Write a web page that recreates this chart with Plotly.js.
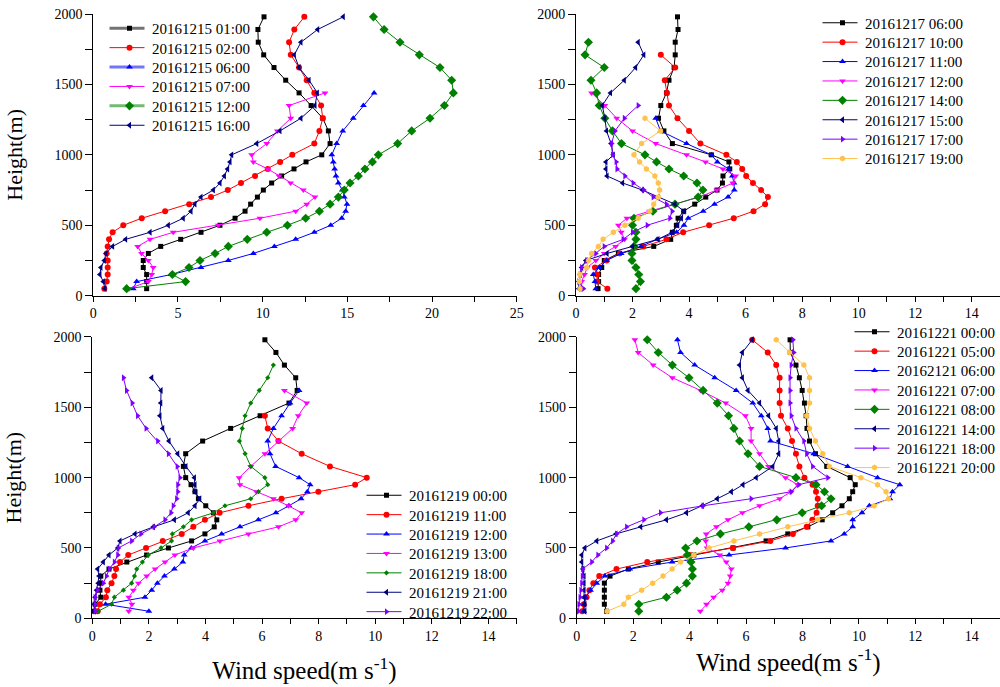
<!DOCTYPE html>
<html>
<head>
<meta charset="utf-8">
<script src="https://cdn.plot.ly/plotly-3.0.1.min.js"></script>
<style>
  html, body { margin: 0; padding: 0; background: #ffffff; }
  #chart { width: 1000px; height: 687px; }
</style>
</head>
<body>
<div id="chart"></div>
<script>
// Measurement heights (m): 50 m steps up to 1000 m, then 90 m steps up to 1980 m
const HEIGHTS = [50, 100, 150, 200, 250, 300, 350, 400, 450, 500,
                 550, 600, 650, 700, 750, 800, 850, 900, 950, 1000,
                 1080, 1170, 1260, 1350, 1440, 1530, 1620, 1710, 1800, 1890, 1980];

// ---- 2016-12-15 wind speed profiles (m/s), listed from the lowest level upward
const d15_0100 = [3.15,3.15,3.15,2.95,2.95,3.25,3.98,5.16,6.36,7.48,8.37,8.96,9.29,9.69,10.04,10.53,11.12,11.85,12.56,13.49,13.98,13.88,13.55,12.86,12.15,11.36,10.67,10.06,9.74,9.72,10.08];
const d15_0200 = [0.65,0.79,0.85,0.85,0.85,0.79,0.85,0.93,1.14,1.77,2.86,4.24,5.66,6.95,7.94,8.72,9.55,10.30,11.03,11.75,13.05,13.35,13.55,13.45,13.05,12.6,12.15,11.66,11.56,11.87,12.46];
const d15_0600 = [2.36,2.56,4.6,6.36,7.97,9.45,10.69,11.95,13.05,14.02,14.67,14.9,14.98,14.82,14.7,14.47,14.33,14.25,14.17,14.08,14.37,14.73,15.35,15.95,16.58];
const d15_0700 = [2.11,3.25,3.45,3.54,3.25,2.85,2.62,3.35,4.72,7.38,9.84,11.95,12.6,13.09,12.4,11.65,10.96,10.3,9.45,9.35,10.24,10.87,11.66,11.56,13.68];
const d15_1200 = [1.97,5.45,4.67,5.65,6.3,7.19,7.97,9.09,10.24,11.46,12.54,13.35,13.98,14.47,14.82,15.16,15.65,16.04,16.48,16.83,17.97,18.8,19.88,20.73,21.26,21.16,20.47,19.25,18.11,17.17,16.54];
const d15_1600 = [0.69,0.59,0.39,0.45,0.65,0.75,1.14,1.91,3.35,4.43,5.31,5.77,6.0,6.36,7.09,7.48,7.74,7.93,8.07,8.17,9.65,11.02,12.26,13.09,13.23,12.74,12.15,11.87,12.26,13.25,14.76];

// ---- 2016-12-17
const d17_0600 = [0.78,0.8,0.8,0.91,1.0,1.5,2.75,3.35,3.41,3.55,3.61,3.81,4.2,4.59,4.99,5.18,5.2,5.44,5.41,4.79,3.41,3.11,2.92,3.0,3.2,3.29,3.47,3.51,3.51,3.61,3.59];
const d17_1000 = [1.11,0.75,0.75,0.67,1.08,1.55,2.38,3.2,3.79,4.71,5.58,6.28,6.69,6.79,6.55,6.26,6.02,5.88,5.69,5.32,4.4,4.0,3.59,3.29,3.22,3.14,3.51,3.0];
const d17_1100 = [0.7,0.67,0.61,0.82,1.08,1.6,2.3,2.87,3.56,3.82,3.97,4.5,4.9,5.38,5.6,5.59,5.53,5.4,5.0,4.79,3.91,2.99,2.82];
const d17_1200 = [0.2,0.2,0.3,0.4,0.7,1.0,1.4,1.72,1.6,1.5,1.8,2.6,3.5,4.35,4.98,5.55,5.65,5.2,4.58,3.91,2.82,2.0,1.44,1.02,0.55];
const d17_1400 = [2.12,2.28,2.22,2.12,1.98,1.98,2.05,2.12,2.12,2.0,2.05,2.72,3.5,4.32,4.49,4.28,3.81,3.29,2.85,2.44,1.61,1.29,1.02,0.82,0.73,0.53,1.0,0.32,0.44];
const d17_1500 = [0.1,0.1,0.15,0.2,0.35,1.1,2.0,2.9,3.4,3.6,3.73,3.82,3.5,2.9,2.35,1.65,1.1,1.06,1.06,1.32,1.24,1.08,1.02,0.93,1.22,1.71,2.11,2.4,2.2];
const d17_1700 = [0.26,0.1,0.15,0.2,0.38,0.7,1.0,1.67,2.0,2.52,3.32,3.4,3.2,2.73,2.4,2.02,1.73,1.45,1.42,1.29,1.26,1.38,1.71,2.2];
const d17_1900 = [0.14,0.12,0.14,0.38,0.45,0.55,0.79,0.96,1.32,1.73,2.2,2.61,2.75,2.91,2.96,2.91,2.79,2.49,2.25,2.05,2.32,2.99,2.44];

// ---- 2016-12-19
const d19_0000 = [0.07,0.1,0.3,0.27,0.3,0.3,0.59,1.22,1.92,2.69,3.51,3.98,4.31,4.4,4.28,4.01,3.75,3.63,3.49,3.3,3.22,3.3,3.9,4.89,5.93,6.95,7.24,7.19,6.79,6.49,6.1];
const d19_1100 = [0.19,0.27,0.48,0.53,0.68,0.78,0.84,0.98,1.27,1.9,2.49,3.16,3.57,3.98,4.5,5.52,6.69,7.99,9.29,9.7,8.4,7.4,6.58,6.2,6.1];
const d19_1200 = [2.0,0.47,1.86,2.1,2.3,2.55,2.9,3.2,3.25,3.5,3.98,4.57,5.22,5.87,6.49,6.95,7.38,7.6,7.7,7.31,6.48,6.28,6.2,6.4,6.69,6.99,7.31];
const d19_1300 = [1.29,1.4,1.29,1.45,1.63,1.92,2.22,2.57,2.92,3.57,4.51,5.52,6.58,7.19,7.4,6.93,6.4,5.8,5.22,5.19,5.6,6.1,6.58,7.08,7.28,7.58,6.79];
const d19_1800 = [0.21,0.68,0.78,1.1,1.39,1.49,1.57,1.77,1.98,2.43,2.8,2.83,3.22,3.51,4.28,4.69,5.6,5.87,6.2,6.1,5.6,5.4,5.2,5.3,5.4,5.6,5.9,6.2,6.4];
const d19_2100 = [0.07,0.07,0.1,0.15,0.21,0.24,0.19,0.39,0.59,0.9,0.98,1.51,2.16,2.9,3.39,3.63,3.8,3.63,3.63,3.61,3.31,3.02,2.71,2.49,2.39,2.42,2.43,2.1];
const d19_2200 = [0.1,0.1,0.1,0.19,0.39,0.5,0.6,0.78,0.9,0.92,1.39,1.72,2.19,2.57,2.78,2.86,2.98,3.02,3.02,3.1,3.0,2.69,2.31,1.9,1.6,1.41,1.21,1.1];

// ---- 2016-12-21
const d21_0000 = [1.06,0.98,0.98,0.98,0.98,1.18,1.83,2.89,4.15,5.54,6.71,7.48,8.19,8.7,9.07,9.4,9.66,9.78,9.87,9.69,8.86,8.46,8.25,8.16,8.13,8.07,7.99,7.89,7.77,7.57,7.56];
const d21_0500 = [0.2,0.25,0.35,0.45,0.59,0.8,1.41,2.5,4.0,5.54,6.86,7.66,8.15,8.35,8.5,8.54,8.54,8.48,8.36,8.07,7.89,7.77,7.63,7.48,7.24,7.19,7.19,7.19,7.07,6.77,6.22];
const d21_0600 = [0.25,0.25,0.3,0.49,0.71,1.0,1.88,3.38,5.4,7.4,9.01,9.48,9.78,9.78,10.11,10.37,11.1,11.19,11.45,10.66,9.6,8.4,6.87,6.77,6.54,6.24,5.65,4.89,4.18,3.68,3.57];
const d21_0700 = [4.38,4.6,4.85,5.16,5.36,5.44,5.48,5.3,5.07,4.62,4.57,4.59,4.95,5.36,5.87,6.48,7.19,7.6,7.83,7.4,6.8,6.48,6.18,6.18,5.98,5.28,4.39,3.39,2.71,2.18,2.06];
const d21_0800 = [2.2,2.2,3.18,3.56,3.89,4.1,4.1,4.05,3.92,3.86,4.26,5.09,6.1,7.09,7.99,8.68,9.01,8.78,8.48,7.77,6.48,6.07,5.77,5.57,5.38,4.98,4.48,3.98,3.39,2.89,2.5];
const d21_1400 = [0.29,0.29,0.26,0.26,0.26,0.26,0.22,0.18,0.18,0.29,0.71,1.39,2.27,3.18,3.89,4.45,4.98,5.48,5.89,6.36,6.95,7.16,7.16,7.07,6.8,6.48,6.07,5.87,5.77,5.87,6.22];
const d21_1800 = [0.06,0.08,0.12,0.15,0.18,0.2,0.21,0.53,0.75,1.06,1.27,1.41,1.77,2.38,2.97,4.48,6.18,7.6,7.87,8.9,8.36,8.15,8.05,7.77,7.6,7.56,7.56,7.56,7.6,7.69,7.66];
const d21_2000 = [1.08,1.67,1.83,2.3,2.69,3.06,3.38,3.68,4.15,4.69,5.57,6.48,7.48,8.54,9.66,10.54,11.05,10.96,10.66,10.07,8.95,8.72,8.46,8.25,8.15,8.25,8.25,8.25,8.05,7.54,7.07];

// Legend labels per panel
const labels15 = ['20161215 01:00','20161215 02:00','20161215 06:00','20161215 07:00','20161215 12:00','20161215 16:00'];
const labels17 = ['20161217 06:00','20161217 10:00','20161217 11:00','20161217 12:00','20161217 14:00','20161217 15:00','20161217 17:00','20161217 19:00'];
const labels19 = ['20161219 00:00','20161219 11:00','20161219 12:00','20161219 13:00','20161219 18:00','20161219 21:00','20161219 22:00'];
const labels21 = ['20161221 00:00','20161221 05:00','20162121 06:00','20161221 07:00','20161221 08:00','20161221 14:00','20161221 18:00','20161221 20:00'];

// Legend keys drawn with a wide, softened line
const SOFT_KEYS = ['20161215 01:00', '20161215 06:00', '20161215 12:00',
                   '20161221 05:00', '20161221 14:00', '20161221 20:00'];

// Line/marker styles: colour, symbol, size
const STYLE = {
  black:   ['#000000', 'square', 5],
  red:     ['#ff0000', 'circle', 6],
  blue:    ['#0000ff', 'triangle-up', 6],
  magenta: ['#ff00ff', 'triangle-down', 6],
  green:   ['#008000', 'diamond', 7],
  greenDot:['#008000', 'diamond', 4],
  navy:    ['#000080', 'triangle-left', 6],
  violet:  ['#8000ff', 'triangle-right', 6],
  orange:  ['#ffc34d', 'hexagon', 6]
};

function profile(values, name, style, axisIdx, legendId) {
  const [color, symbol, size] = STYLE[style];
  const suffix = axisIdx === 1 ? '' : String(axisIdx);
  return {
    type: 'scatter', mode: 'lines+markers',
    x: values, y: HEIGHTS.slice(0, values.length),
    name: name,
    xaxis: 'x' + suffix, yaxis: 'y' + suffix,
    legend: legendId,
    line: { color: color, width: 1 },
    marker: { color: color, symbol: symbol, size: size, line: { width: 0 } },
    cliponaxis: false
  };
}

const traces = [
  profile(d15_0100, labels15[0], 'black', 1, 'legend'),
  profile(d15_0200, labels15[1], 'red', 1, 'legend'),
  profile(d15_0600, labels15[2], 'blue', 1, 'legend'),
  profile(d15_0700, labels15[3], 'magenta', 1, 'legend'),
  profile(d15_1200, labels15[4], 'green', 1, 'legend'),
  profile(d15_1600, labels15[5], 'navy', 1, 'legend'),

  profile(d17_0600, labels17[0], 'black', 2, 'legend2'),
  profile(d17_1000, labels17[1], 'red', 2, 'legend2'),
  profile(d17_1100, labels17[2], 'blue', 2, 'legend2'),
  profile(d17_1200, labels17[3], 'magenta', 2, 'legend2'),
  profile(d17_1400, labels17[4], 'green', 2, 'legend2'),
  profile(d17_1500, labels17[5], 'navy', 2, 'legend2'),
  profile(d17_1700, labels17[6], 'violet', 2, 'legend2'),
  profile(d17_1900, labels17[7], 'orange', 2, 'legend2'),

  profile(d19_0000, labels19[0], 'black', 3, 'legend3'),
  profile(d19_1100, labels19[1], 'red', 3, 'legend3'),
  profile(d19_1200, labels19[2], 'blue', 3, 'legend3'),
  profile(d19_1300, labels19[3], 'magenta', 3, 'legend3'),
  profile(d19_1800, labels19[4], 'greenDot', 3, 'legend3'),
  profile(d19_2100, labels19[5], 'navy', 3, 'legend3'),
  profile(d19_2200, labels19[6], 'violet', 3, 'legend3'),

  profile(d21_0000, labels21[0], 'black', 4, 'legend4'),
  profile(d21_0500, labels21[1], 'red', 4, 'legend4'),
  profile(d21_0600, labels21[2], 'blue', 4, 'legend4'),
  profile(d21_0700, labels21[3], 'magenta', 4, 'legend4'),
  profile(d21_0800, labels21[4], 'green', 4, 'legend4'),
  profile(d21_1400, labels21[5], 'navy', 4, 'legend4'),
  profile(d21_1800, labels21[6], 'violet', 4, 'legend4'),
  profile(d21_2000, labels21[7], 'orange', 4, 'legend4')
];

const FONT = 'Liberation Serif, Times New Roman, serif';
const LEGEND_ROW = 19.4;   // vertical pitch of legend rows (px)

function axis(extra) {
  return Object.assign({
    showline: true, linecolor: '#000', linewidth: 1,
    ticks: 'outside', ticklen: 5, tickwidth: 1, tickcolor: '#000',
    showgrid: false, zeroline: false,
    tickfont: { family: FONT, size: 14, color: '#000' }
  }, extra);
}

function minorTicks(step, len) {
  return { ticks: 'outside', ticklen: len, tickwidth: 1, tickcolor: '#000', dtick: step, showgrid: false };
}

function legendBox(x, y) {
  return {
    x: x, y: y, xanchor: 'left', yanchor: 'top',
    bgcolor: 'rgba(0,0,0,0)', borderwidth: 0,
    font: { family: FONT, size: 15, color: '#000' },
    itemwidth: 35,
    tracegroupgap: 0
  };
}

const yTitle = { text: 'Height(m)', font: { family: FONT, size: 22, color: '#000' }, standoff: 25 };
const xTitleFont = { family: FONT, size: 25, color: '#000' };
const xTitleText = 'Wind speed(m s<sup>-1</sup>)';

const layout = {
  width: 1000, height: 687,
  margin: { l: 0, r: 0, t: 0, b: 0, autoexpand: false },
  paper_bgcolor: '#fff', plot_bgcolor: '#fff',
  font: { family: FONT, color: '#000' },
  showlegend: true,

  xaxis:  axis({ domain: [0.0933, 0.5167], range: [0, 25], dtick: 5, tick0: 0, minor: minorTicks(2.5, 5), anchor: 'y' }),
  yaxis:  axis({ domain: [0.5696, 0.9796], range: [0, 2000], dtick: 500, tick0: 0, ticklen: 7, minor: minorTicks(250, 7), anchor: 'x', title: yTitle }),

  xaxis2: axis({ domain: [0.576, 1.0], range: [0, 15], dtick: 2, tick0: 0, minor: minorTicks(1, 5), anchor: 'y2' }),
  yaxis2: axis({ domain: [0.5696, 0.9796], range: [0, 2000], dtick: 500, tick0: 0, ticklen: 7, minor: minorTicks(250, 7), anchor: 'x2' }),

  xaxis3: axis({ domain: [0.0923, 0.5167], range: [0, 15], dtick: 2, tick0: 0, minor: minorTicks(1, 5), anchor: 'y3',
                 title: { text: xTitleText, font: xTitleFont, standoff: 18 } }),
  yaxis3: axis({ domain: [0.1000, 0.5095], range: [0, 2000], dtick: 500, tick0: 0, ticklen: 7, minor: minorTicks(250, 7), anchor: 'x3', title: yTitle }),

  xaxis4: axis({ domain: [0.5767, 1.0], range: [0, 15], dtick: 2, tick0: 0, minor: minorTicks(1, 5), anchor: 'y4',
                 title: { text: xTitleText, font: xTitleFont, standoff: 5 } }),
  yaxis4: axis({ domain: [0.1000, 0.5095], range: [0, 2000], dtick: 500, tick0: 0, ticklen: 7, minor: minorTicks(250, 7), anchor: 'x4' }),

  legend:  legendBox(0.107, 1 - 12 / 687),
  legend2: legendBox(0.820, 1 - 6.5 / 687),
  legend3: legendBox(0.364, 1 - 479 / 687),
  legend4: legendBox(0.852, 1 - 315.5 / 687)
};

// Legend finishing: fixed row pitch, 35 px line keys, softened wide keys
function finishLegends(gd) {
  gd.querySelectorAll('g.scrollbox').forEach(function (box) {
    const items = box.querySelectorAll('g.traces');
    if (!items.length) return;
    const parse = function (el) {
      const m = /translate\(\s*([-\d.]+)[ ,]+([-\d.]+)\s*\)/.exec(el.getAttribute('transform') || '');
      return m ? [parseFloat(m[1]), parseFloat(m[2])] : [0, 0];
    };
    const first = parse(items[0]);
    items.forEach(function (el, i) {
      const p = parse(el);
      el.setAttribute('transform', 'translate(' + p[0] + ',' + (first[1] + i * LEGEND_ROW) + ')');
      const label = el.querySelector('text.legendtext');
      const soft = label && SOFT_KEYS.indexOf(label.textContent) >= 0;
      el.querySelectorAll('g.legendlines path').forEach(function (path) {
        path.setAttribute('d', 'M2.5,0h35');
        if (soft) {
          path.style.strokeWidth = '3px';
          path.style.strokeOpacity = '0.55';
        }
      });
    });
  });
}

Plotly.newPlot('chart', traces, layout, { staticPlot: true, displayModeBar: false })
  .then(finishLegends);
</script>
</body>
</html>
